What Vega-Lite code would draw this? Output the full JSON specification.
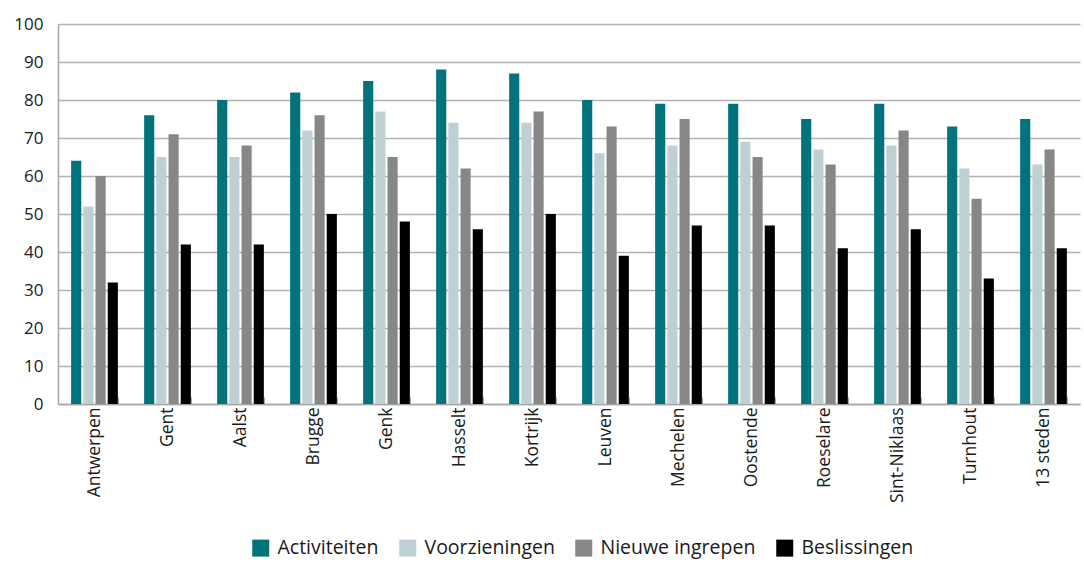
{
  "$schema": "https://vega.github.io/schema/vega-lite/v6.json",
  "width": 1022,
  "height": 380,
  "autosize": {"type": "none"},
  "padding": {"left": 58, "top": 24, "right": 4, "bottom": 158},
  "background": "white",
  "config": {"view": {"stroke": null}, "font": "Open Sans"},
  "data": {
    "values": [
      {"stad": "Antwerpen", "reeks": "Activiteiten", "waarde": 64},
      {"stad": "Antwerpen", "reeks": "Voorzieningen", "waarde": 52},
      {"stad": "Antwerpen", "reeks": "Nieuwe ingrepen", "waarde": 60},
      {"stad": "Antwerpen", "reeks": "Beslissingen", "waarde": 32},
      {"stad": "Gent", "reeks": "Activiteiten", "waarde": 76},
      {"stad": "Gent", "reeks": "Voorzieningen", "waarde": 65},
      {"stad": "Gent", "reeks": "Nieuwe ingrepen", "waarde": 71},
      {"stad": "Gent", "reeks": "Beslissingen", "waarde": 42},
      {"stad": "Aalst", "reeks": "Activiteiten", "waarde": 80},
      {"stad": "Aalst", "reeks": "Voorzieningen", "waarde": 65},
      {"stad": "Aalst", "reeks": "Nieuwe ingrepen", "waarde": 68},
      {"stad": "Aalst", "reeks": "Beslissingen", "waarde": 42},
      {"stad": "Brugge", "reeks": "Activiteiten", "waarde": 82},
      {"stad": "Brugge", "reeks": "Voorzieningen", "waarde": 72},
      {"stad": "Brugge", "reeks": "Nieuwe ingrepen", "waarde": 76},
      {"stad": "Brugge", "reeks": "Beslissingen", "waarde": 50},
      {"stad": "Genk", "reeks": "Activiteiten", "waarde": 85},
      {"stad": "Genk", "reeks": "Voorzieningen", "waarde": 77},
      {"stad": "Genk", "reeks": "Nieuwe ingrepen", "waarde": 65},
      {"stad": "Genk", "reeks": "Beslissingen", "waarde": 48},
      {"stad": "Hasselt", "reeks": "Activiteiten", "waarde": 88},
      {"stad": "Hasselt", "reeks": "Voorzieningen", "waarde": 74},
      {"stad": "Hasselt", "reeks": "Nieuwe ingrepen", "waarde": 62},
      {"stad": "Hasselt", "reeks": "Beslissingen", "waarde": 46},
      {"stad": "Kortrijk", "reeks": "Activiteiten", "waarde": 87},
      {"stad": "Kortrijk", "reeks": "Voorzieningen", "waarde": 74},
      {"stad": "Kortrijk", "reeks": "Nieuwe ingrepen", "waarde": 77},
      {"stad": "Kortrijk", "reeks": "Beslissingen", "waarde": 50},
      {"stad": "Leuven", "reeks": "Activiteiten", "waarde": 80},
      {"stad": "Leuven", "reeks": "Voorzieningen", "waarde": 66},
      {"stad": "Leuven", "reeks": "Nieuwe ingrepen", "waarde": 73},
      {"stad": "Leuven", "reeks": "Beslissingen", "waarde": 39},
      {"stad": "Mechelen", "reeks": "Activiteiten", "waarde": 79},
      {"stad": "Mechelen", "reeks": "Voorzieningen", "waarde": 68},
      {"stad": "Mechelen", "reeks": "Nieuwe ingrepen", "waarde": 75},
      {"stad": "Mechelen", "reeks": "Beslissingen", "waarde": 47},
      {"stad": "Oostende", "reeks": "Activiteiten", "waarde": 79},
      {"stad": "Oostende", "reeks": "Voorzieningen", "waarde": 69},
      {"stad": "Oostende", "reeks": "Nieuwe ingrepen", "waarde": 65},
      {"stad": "Oostende", "reeks": "Beslissingen", "waarde": 47},
      {"stad": "Roeselare", "reeks": "Activiteiten", "waarde": 75},
      {"stad": "Roeselare", "reeks": "Voorzieningen", "waarde": 67},
      {"stad": "Roeselare", "reeks": "Nieuwe ingrepen", "waarde": 63},
      {"stad": "Roeselare", "reeks": "Beslissingen", "waarde": 41},
      {"stad": "Sint-Niklaas", "reeks": "Activiteiten", "waarde": 79},
      {"stad": "Sint-Niklaas", "reeks": "Voorzieningen", "waarde": 68},
      {"stad": "Sint-Niklaas", "reeks": "Nieuwe ingrepen", "waarde": 72},
      {"stad": "Sint-Niklaas", "reeks": "Beslissingen", "waarde": 46},
      {"stad": "Turnhout", "reeks": "Activiteiten", "waarde": 73},
      {"stad": "Turnhout", "reeks": "Voorzieningen", "waarde": 62},
      {"stad": "Turnhout", "reeks": "Nieuwe ingrepen", "waarde": 54},
      {"stad": "Turnhout", "reeks": "Beslissingen", "waarde": 33},
      {"stad": "13 steden", "reeks": "Activiteiten", "waarde": 75},
      {"stad": "13 steden", "reeks": "Voorzieningen", "waarde": 63},
      {"stad": "13 steden", "reeks": "Nieuwe ingrepen", "waarde": 67},
      {"stad": "13 steden", "reeks": "Beslissingen", "waarde": 41}
    ]
  },
  "mark": {"type": "bar"},
  "encoding": {
    "x": {
      "field": "stad",
      "type": "nominal",
      "sort": null,
      "scale": {"paddingInner": 0.36, "paddingOuter": 0.18},
      "axis": {
        "title": null,
        "labelAngle": -90,
        "labelFontSize": 17.5,
        "labelColor": "#1a1a1a",
        "labelPadding": 10,
        "domainColor": "#a6a6a6",
        "domainWidth": 1.5,
        "tickColor": "#a6a6a6",
        "tickBand": "extent",
        "tickSize": -7,
        "tickWidth": 1
      }
    },
    "xOffset": {
      "field": "reeks",
      "type": "nominal",
      "sort": ["Activiteiten", "Voorzieningen", "Nieuwe ingrepen", "Beslissingen"],
      "scale": {"paddingInner": 0.17}
    },
    "y": {
      "field": "waarde",
      "type": "quantitative",
      "scale": {"domain": [0, 100]},
      "axis": {
        "title": null,
        "values": [0, 10, 20, 30, 40, 50, 60, 70, 80, 90, 100],
        "labelOverlap": false,
        "labelFontSize": 17,
        "labelColor": "#1a1a1a",
        "labelPadding": 15,
        "ticks": false,
        "domainColor": "#a6a6a6",
        "domainWidth": 1.5,
        "gridColor": "#b3b3b3",
        "gridWidth": 1.5
      }
    },
    "color": {
      "field": "reeks",
      "type": "nominal",
      "scale": {
        "domain": ["Activiteiten", "Voorzieningen", "Nieuwe ingrepen", "Beslissingen"],
        "range": ["#00737d", "#bfd0d5", "#878787", "#000000"]
      },
      "legend": {
        "title": null,
        "orient": "none",
        "legendX": 193,
        "legendY": 514,
        "direction": "horizontal",
        "symbolType": "square",
        "symbolSize": 289,
        "symbolStrokeWidth": 0,
        "labelFontSize": 19.5,
        "labelOffset": 7,
        "labelColor": "#1a1a1a",
        "columnPadding": 19
      }
    }
  }
}
